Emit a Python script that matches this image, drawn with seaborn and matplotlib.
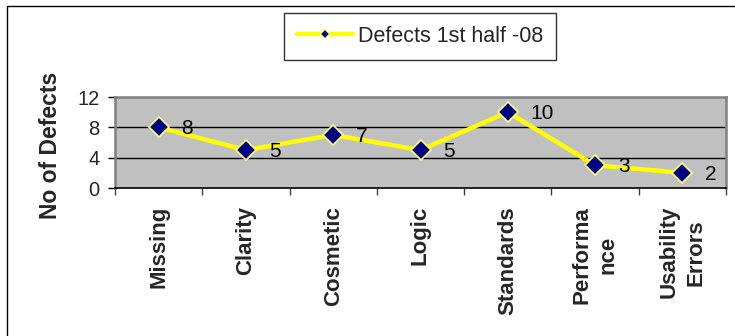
import matplotlib
matplotlib.use("Agg")
import matplotlib.pyplot as plt
from matplotlib.patches import Rectangle
import seaborn as sns
import pandas as pd

categories = ["Missing", "Clarity", "Cosmetic", "Logic", "Standards", "Performance", "Usability Errors"]
tick_labels = ["Missing", "Clarity", "Cosmetic", "Logic", "Standards", "Performa\nnce", "Usability\nErrors"]
defects = [8, 5, 7, 5, 10, 3, 2]
series_name = "Defects 1st half -08"
y_ticks = [0, 4, 8, 12]

sns.set_theme(style="white")
plt.rcParams["font.family"] = ["Liberation Sans", "DejaVu Sans"]

W, H = 735, 336
fig = plt.figure(figsize=(W / 100, H / 100), dpi=100)
fig.patch.set_facecolor("white")

L, R, T, B = 115, 726, 97, 188
ax = fig.add_axes([L / W, 1 - B / H, (R - L) / W, (B - T) / H])
ax.set_facecolor("#C0C0C0")

df = pd.DataFrame({"category": categories, "defects": defects})
df["pos"] = range(len(df))

sns.lineplot(data=df, x="pos", y="defects", ax=ax, color="#FFFF00", lw=3.2,
             marker="D", markersize=10, markerfacecolor="#000080",
             markeredgecolor="#FFFF80", markeredgewidth=1.2,
             label=series_name, zorder=5)

for i, v in enumerate(defects):
    ax.annotate(str(v), xy=(i, v), xytext=(16.5, -1), textcoords="offset points",
                ha="left", va="center", fontsize=15, color="black", zorder=6)

ax.set_xlim(-0.5, len(categories) - 0.5)
ax.set_ylim(0, 12)
ax.set_yticks(y_ticks)
ax.set_yticklabels([str(t) for t in y_ticks], fontsize=14.5)
ax.tick_params(axis="y", direction="out", length=5, width=1, color="black", pad=6, left=True)

ax.set_xticks(range(len(categories)))
ax.set_xticklabels(tick_labels, rotation=90, fontsize=16, fontweight="bold",
                   va="top", ha="center", multialignment="center", linespacing=1.35)
ax.tick_params(axis="x", which="major", length=0, pad=13)
ax.set_xticks([i - 0.5 for i in range(len(categories) + 1)], minor=True)
ax.tick_params(axis="x", which="minor", direction="out", length=5, width=1,
               color="#404040", bottom=True)

for yv in [4, 8]:
    ax.axhline(yv, color="black", lw=1, zorder=1)

for s in ["left", "top", "right"]:
    ax.spines[s].set_color("#808080")
    ax.spines[s].set_linewidth(1.8)
    ax.spines[s].set_visible(True)
ax.spines["bottom"].set_color("black")
ax.spines["bottom"].set_linewidth(1.2)
ax.spines["bottom"].set_visible(True)

ax.set_xlabel("")
ax.set_ylabel("No of Defects", fontsize=16.5, fontweight="bold", va="baseline")
ax.yaxis.set_label_coords((57 - L) / (R - L), (B - 145) / (B - T))

leg = ax.legend(loc="upper left", bbox_to_anchor=(284 / W, 1 - 13 / H),
                bbox_transform=fig.transFigure, borderaxespad=0, frameon=True,
                fancybox=False, shadow=False, fontsize=15.5, handlelength=2.6,
                handletextpad=0.25, borderpad=0.6, markerscale=0.5)
leg.get_frame().set_edgecolor("black")
leg.get_frame().set_linewidth(1)
leg.get_frame().set_facecolor("white")

fig.add_artist(Rectangle((7 / W, -0.1), 2, 1 - 6 / H + 0.1, transform=fig.transFigure,
                         fill=False, ec="black", lw=1))

fig.savefig("out.png", dpi=100, facecolor="white")
